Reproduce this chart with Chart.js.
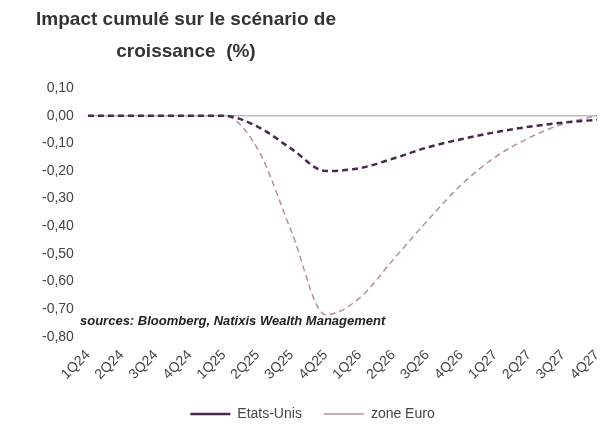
<!DOCTYPE html>
<html><head><meta charset="utf-8">
<script src="https://cdn.jsdelivr.net/npm/chart.js@4/dist/chart.umd.min.js"></script>
<style>html,body{margin:0;background:#fff}#wrap{width:611px;height:445px}</style>
</head><body><div id="wrap"><canvas id="c"></canvas></div>
<script>
const categories = ["1Q24","2Q24","3Q24","4Q24","1Q25","2Q25","3Q25","4Q25","1Q26","2Q26","3Q26","4Q26","1Q27","2Q27","3Q27","4Q27"];
const usValues = [0,0,0,0,0,-0.04,-0.12,-0.20,-0.19,-0.155,-0.115,-0.085,-0.06,-0.04,-0.025,-0.015];
const euroValues = [0,0,0,0,0,-0.12,-0.42,-0.72,-0.66,-0.52,-0.38,-0.25,-0.15,-0.08,-0.03,0.0];
const titleLines = ["Impact cumulé sur le scénario de", "croissance  (%)"];
const sourceText = "sources: Bloomberg, Natixis Wealth Management";

const extrasPlugin = {
  id: "extras",
  afterDraw(chart) {
    const ctx = chart.ctx, y = chart.scales.y;
    ctx.save();
    ctx.font = "bold 19px 'Liberation Sans', Arial";
    ctx.fillStyle = "#333";
    ctx.textAlign = "center";
    ctx.textBaseline = "middle";
    ctx.fillText(titleLines[0], 186, 20);
    ctx.fillText(titleLines[1], 186, 52);
    ctx.textAlign = "left";
    ctx.font = "italic bold 13px 'Liberation Sans', Arial";
    ctx.fillStyle = "#222";
    ctx.fillText(sourceText, 80, y.getPixelForValue(-0.745));
    ctx.restore();
  }
};

new Chart(document.getElementById("c"), {
  type: "line",
  data: {
    labels: categories,
    datasets: [
      { label: "Etats-Unis", data: usValues, borderColor: "#4a2a4c", borderWidth: 2.5, borderDash: [6, 4], pointRadius: 0, cubicInterpolationMode: "monotone", fill: false },
      { label: "zone Euro", data: euroValues, borderColor: "#b48fa0", borderWidth: 1.5, borderDash: [6, 4], pointRadius: 0, cubicInterpolationMode: "monotone", fill: false }
    ]
  },
  options: {
    responsive: true,
    maintainAspectRatio: false,
    animation: false,
    layout: { padding: { left: 28, right: 14, top: 88, bottom: 14 } },
    scales: {
      x: {
        grid: { display: false },
        border: { display: false },
        ticks: { color: "#444", padding: 2, font: { size: 14, family: "'Liberation Sans', Arial" }, maxRotation: 45, minRotation: 45, autoSkip: false }
      },
      y: {
        min: -0.8, max: 0.1,
        border: { display: false },
        grid: { color: ctx => ctx.tick.value === 0 ? "#bbb" : "transparent", lineWidth: 1.5, drawTicks: false },
        ticks: { stepSize: 0.1, padding: 14, color: "#444", font: { size: 14, family: "'Liberation Sans', Arial" },
          callback: v => v.toFixed(2).replace(".", ",").replace("-0,00", "0,00") }
      }
    },
    plugins: {
      legend: { position: "bottom", labels: { boxWidth: 40, boxHeight: 0, color: "#444", padding: 22,
        font: { size: 14, family: "'Liberation Sans', Arial" } } },
      tooltip: { enabled: false }
    }
  },
  plugins: [extrasPlugin]
});
</script></body></html>
